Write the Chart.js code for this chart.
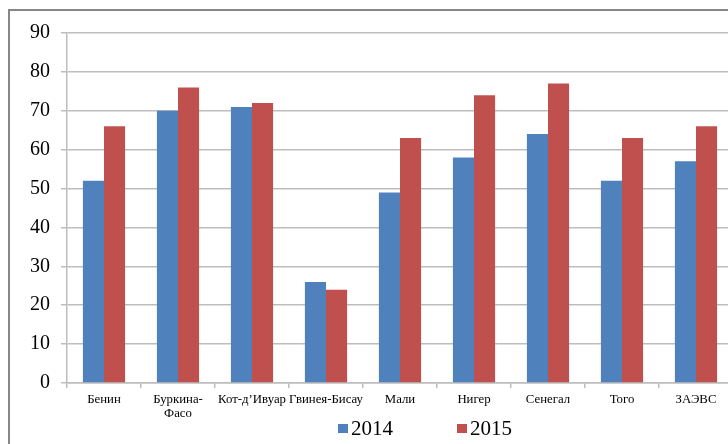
<!DOCTYPE html>
<html>
<head>
<meta charset="utf-8">
<script src="https://cdn.jsdelivr.net/npm/chart.js@4.4.0/dist/chart.umd.min.js"></script>
<style>
  html, body { margin: 0; padding: 0; background: #fff; overflow: hidden; }
  #wrap { position: relative; width: 728px; height: 444px; overflow: hidden; }
  #frame { position: absolute; left: 8px; top: 9px; width: 800px; height: 500px; border: 2px solid #878787; }
  #box { position: absolute; left: 0; top: 0; width: 745px; height: 444px; }
</style>
</head>
<body>
<div id="wrap">
  <div id="frame"></div>
  <div id="box"><canvas id="chart"></canvas></div>
</div>
<script>
// data
const countries = ['Бенин', ['Буркина-', 'Фасо'], 'Кот-д’Ивуар', 'Гвинея-Бисау', 'Мали', 'Нигер', 'Сенегал', 'Того', 'ЗАЭВС'];
const values2014 = [52, 70, 71, 26, 49, 58, 64, 52, 57];
const values2015 = [66, 76, 72, 24, 63, 74, 77, 63, 66];
const yearLabels = ['2014', '2015'];
const yearColors = ['#4F81BD', '#C0504D'];
const yTicks = [0, 10, 20, 30, 40, 50, 60, 70, 80, 90];

const serif = '"Liberation Serif", "Times New Roman", serif';
const gridGrey = '#BDBDBD';

// legend drawn under the axis, like the original
const bottomLegend = {
    id: 'bottomLegend',
    afterDraw(chart) {
        const ctx = chart.ctx;
        ctx.save();
        ctx.font = '21px ' + serif;
        ctx.textBaseline = 'middle';
        const y = 429;
        let x = 338;
        chart.data.datasets.forEach(ds => {
            ctx.fillStyle = ds.backgroundColor;
            ctx.fillRect(x, y - 5, 10, 9);
            ctx.fillStyle = '#000';
            ctx.fillText(ds.label, x + 13, y);
            x += 119;
        });
        ctx.restore();
    }
};

new Chart(document.getElementById('chart'), {
    type: 'bar',
    data: {
        labels: countries,
        datasets: [
            { label: yearLabels[0], data: values2014, backgroundColor: yearColors[0] },
            { label: yearLabels[1], data: values2015, backgroundColor: yearColors[1] }
        ]
    },
    options: {
        responsive: true,
        maintainAspectRatio: false,
        animation: false,
        categoryPercentage: 0.57,
        barPercentage: 1,
        layout: { padding: { left: 0, top: 33, right: 12, bottom: 26 } },
        plugins: {
            legend: { display: false },
            tooltip: { enabled: false }
        },
        scales: {
            x: {
                grid: { drawOnChartArea: false, drawTicks: true, tickLength: 5, color: gridGrey, lineWidth: 1.5 },
                border: { color: gridGrey, width: 1.5 },
                ticks: { color: '#000', font: { family: serif, size: 12.8, lineHeight: 1.05 }, padding: 5, maxRotation: 0, autoSkip: false },
                afterFit(scale) { scale.height = 35; }
            },
            y: {
                min: 0,
                max: 90,
                afterBuildTicks(scale) { scale.ticks = yTicks.map(v => ({ value: v })); },
                grid: { color: gridGrey, lineWidth: 1.5, tickLength: 6 },
                border: { color: gridGrey, width: 1.5 },
                ticks: { color: '#000', font: { family: serif, size: 20 }, padding: 11 },
                afterFit(scale) { scale.width = 67; }
            }
        }
    },
    plugins: [bottomLegend]
});
</script>
</body>
</html>
